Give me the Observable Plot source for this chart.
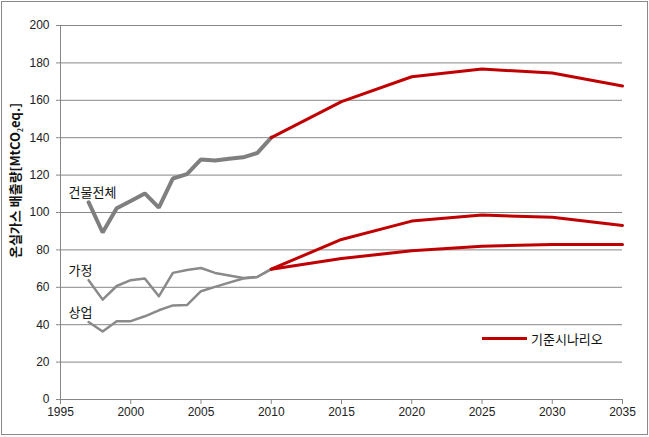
<!DOCTYPE html>
<html>
<head>
<meta charset="utf-8">
<script src="https://cdn.jsdelivr.net/npm/d3@7"></script>
<script src="https://cdn.jsdelivr.net/npm/@observablehq/plot@0.6"></script>
<style>
  body { margin: 0; background: #fff; }
  #wrap { position: relative; width: 649px; height: 437px; overflow: hidden; }
  #border { position: absolute; left: 1px; top: 1px; width: 645px; height: 432px; border: 1px solid #8a8a8a; pointer-events: none; }
  #legend { position: absolute; left: 482px; top: 329px; display: flex; align-items: center; font-family: "Noto Sans CJK KR", sans-serif; font-size: 13px; color: #111; }
  #legend span.sw { display: inline-block; width: 45px; height: 3px; background: #c00000; margin-right: 4px; }
</style>
</head>
<body>
<div id="wrap">
  <div id="chart"></div>
  <div id="legend"><span class="sw"></span><span>기준시나리오</span></div>
  <div id="border"></div>
</div>
<script>
const histYears = [1997, 1998, 1999, 2000, 2001, 2002, 2003, 2004, 2005, 2006, 2007, 2008, 2009, 2010];
const totalHist = [105.5, 89.3, 102.3, 106.2, 110.2, 102.6, 118.2, 120.5, 128.4, 127.8, 128.8, 129.5, 131.8, 140];
const homeHist  = [63.8, 53.4, 60.7, 63.8, 64.7, 55.2, 67.7, 69.3, 70.3, 67.7, 66.3, 65.0, 65.5, 69.7];
const commHist  = [41.4, 36.4, 41.9, 41.9, 44.5, 47.7, 50.3, 50.5, 57.9, 60.2, 62.5, 64.7, 65.5, 69.7];

const scenYears = [2010, 2015, 2020, 2025, 2030, 2035];
const totalScen = [140, 159.3, 172.6, 176.7, 174.6, 167.7];
const homeScen  = [69.7, 85.6, 95.4, 98.6, 97.5, 93.1];
const commScen  = [69.7, 75.4, 79.5, 82.0, 82.9, 82.9];

const seriesNames = ["건물전체", "가정", "상업"];
const yTitle = "온실가스 배출량[MtCO₂eq.]";
const xTicks = [1995, 2000, 2005, 2010, 2015, 2020, 2025, 2030, 2035];
const yTicks = [0, 20, 40, 60, 80, 100, 120, 140, 160, 180, 200];

const toRows = (xs, ys) => xs.map((x, i) => ({x, y: ys[i]}));
const hist = [totalHist, homeHist, commHist].map(s => toRows(histYears, s));
const scen = [totalScen, homeScen, commScen].map(s => toRows(scenYears, s));
const labels = seriesNames.map((name, i) => ({name, ...hist[i][0]}));

const grid = "#878787";
const kfont = "Noto Sans CJK KR";

const chart = Plot.plot({
  width: 649,
  height: 437,
  marginLeft: 60,
  marginRight: 27,
  marginTop: 25,
  marginBottom: 38,
  x: {domain: [1995, 2035]},
  y: {domain: [0, 200]},
  style: {fontFamily: "Liberation Sans", fontSize: "12px", color: "#222", background: "white"},
  marks: [
    Plot.gridY(yTicks.filter(d => d > 0), {stroke: grid, strokeOpacity: 1}),
    Plot.ruleY([0], {stroke: grid}),
    Plot.ruleX([1995], {stroke: grid}),
    Plot.axisY({ticks: yTicks, tickSize: 4, tickPadding: 7, stroke: grid, label: null}),
    Plot.axisX({ticks: xTicks, tickSize: 5, tickPadding: 3, tickFormat: "d", stroke: grid, label: null}),
    Plot.lineY(hist[0], {x: "x", y: "y", stroke: "#7f7f7f", strokeWidth: 4, strokeLinejoin: "miter"}),
    Plot.lineY(hist[1], {x: "x", y: "y", stroke: "#8a8a8a", strokeWidth: 2.5}),
    Plot.lineY(hist[2], {x: "x", y: "y", stroke: "#8a8a8a", strokeWidth: 2.5}),
    Plot.lineY(scen[0], {x: "x", y: "y", stroke: "#c00000", strokeWidth: 3}),
    Plot.lineY(scen[1], {x: "x", y: "y", stroke: "#c00000", strokeWidth: 3}),
    Plot.lineY(scen[2], {x: "x", y: "y", stroke: "#c00000", strokeWidth: 3}),
    Plot.text(labels, {x: "x", y: "y", text: "name", textAnchor: "start", dx: -20, dy: -9, fontFamily: kfont, fontSize: 13, fill: "#111"}),
    Plot.text([yTitle], {frameAnchor: "left", text: d => d, rotate: -90, textAnchor: "middle", dx: -45, dy: -32, fontFamily: kfont, fontSize: 13, fontWeight: "bold", fill: "#111"})
  ]
});
document.getElementById("chart").appendChild(chart);
</script>
</body>
</html>
